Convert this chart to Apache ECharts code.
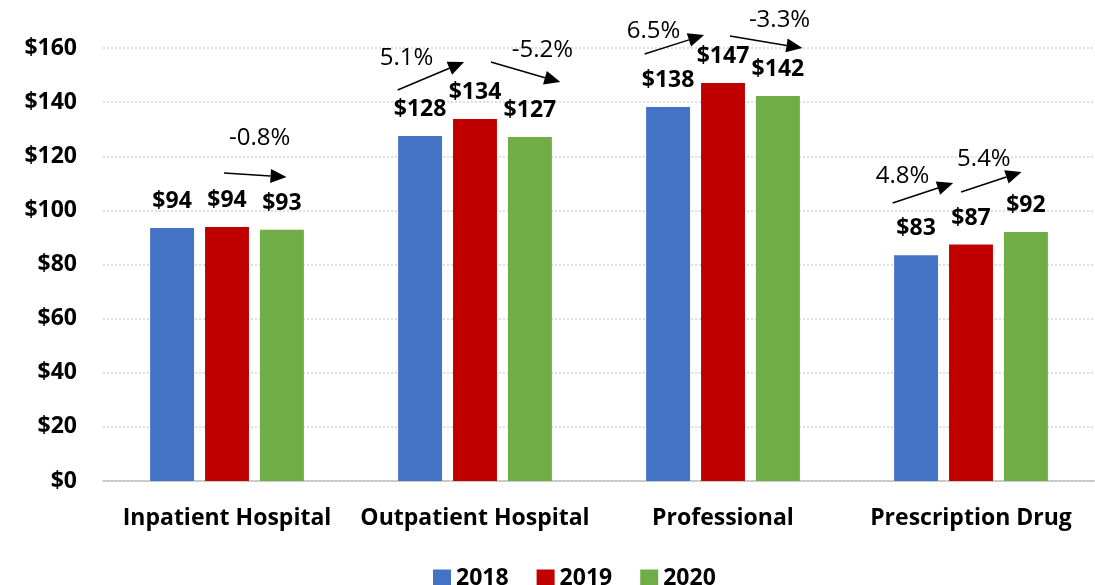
<!DOCTYPE html>
<html>
<head>
<meta charset="utf-8">
<script src="https://cdn.jsdelivr.net/npm/echarts@6/dist/echarts.min.js"></script>
<style>
  html, body { margin: 0; padding: 0; background: #fff; }
  #chart { width: 1095px; height: 585px; }
</style>
</head>
<body>
<div id="chart"></div>
<script>
const categories = ['Inpatient Hospital', 'Outpatient Hospital', 'Professional', 'Prescription Drug']
const years = ['2018', '2019', '2020']
const values2018 = [93.5, 127.5, 138.2, 83.4]
const values2019 = [93.9, 133.8, 147.1, 87.4]
const values2020 = [92.8, 127.1, 142.3, 92.0]
const yTicks = [0, 20, 40, 60, 80, 100, 120, 140, 160]

// year-over-year change labels, one per arrow
const changeText = ['-0.8%', '5.1%', '-5.2%', '6.5%', '-3.3%', '4.8%', '5.4%']
const changeCategory = [0, 1, 1, 2, 2, 3, 3]

// arrow layout: x as fraction of category band from its centre, y in axis units
const arrowLayout = [
  { x0: -0.012, v0: 113.8, x1: 0.24, v1: 112.3, tx: 0.132, tv: 126.8 },
  { x0: -0.312, v0: 144.5, x1: -0.044, v1: 154.8, tx: -0.276, tv: 156.3 },
  { x0: 0.064, v0: 154.8, x1: 0.344, v1: 147.4, tx: 0.272, tv: 159.3 },
  { x0: -0.316, v0: 157.8, x1: -0.076, v1: 164.8, tx: -0.28, tv: 166.3 },
  { x0: 0.028, v0: 164.4, x1: 0.32, v1: 160.0, tx: 0.228, tv: 170.4 },
  { x0: -0.316, v0: 102.7, x1: -0.072, v1: 110.1, tx: -0.276, tv: 112.7 },
  { x0: -0.04, v0: 106.8, x1: 0.204, v1: 114.2, tx: 0.052, tv: 119.0 }
]

const font = '"Open Sans", "Noto Sans", sans-serif'
const colors = ['#4472C4', '#C00000', '#70AD47']

const chartDom = echarts.init(document.getElementById('chart'))

const barLabel = {
  show: true,
  position: 'top',
  distance: 15,
  color: '#000',
  fontWeight: 'bold',
  fontSize: 23,
  fontFamily: font,
  formatter: (p) => '$' + Math.round(p.value)
}

function renderArrow(params, api) {
  const cat = api.value(0)
  const a = arrowLayout[params.dataIndex]
  const band = api.size([1, 0])[0]
  const cx = api.coord([cat, 0])[0]
  const p0 = [cx + a.x0 * band, api.coord([cat, a.v0])[1]]
  const p1 = [cx + a.x1 * band, api.coord([cat, a.v1])[1]]
  const dx = p1[0] - p0[0]
  const dy = p1[1] - p0[1]
  const len = Math.sqrt(dx * dx + dy * dy)
  const ux = dx / len
  const uy = dy / len
  const headL = 16
  const headW = 7
  const bx = p1[0] - ux * headL
  const by = p1[1] - uy * headL
  return {
    type: 'group',
    children: [
      {
        type: 'line',
        shape: { x1: p0[0], y1: p0[1], x2: bx, y2: by },
        style: { stroke: '#000', lineWidth: 1.5 }
      },
      {
        type: 'polygon',
        shape: {
          points: [
            [p1[0], p1[1]],
            [bx - uy * headW, by + ux * headW],
            [bx + uy * headW, by - ux * headW]
          ]
        },
        style: { fill: '#000' }
      },
      {
        type: 'text',
        style: {
          text: changeText[params.dataIndex],
          x: cx + a.tx * band,
          y: api.coord([cat, a.tv])[1],
          align: 'center',
          verticalAlign: 'middle',
          fill: '#000',
          fontSize: 24,
          fontFamily: font
        }
      }
    ]
  }
}

const option = {
  animation: false,
  color: colors,
  grid: { left: 103, top: 48, width: 999, height: 433 },
  legend: {
    data: years,
    top: 562,
    left: 428,
    icon: 'rect',
    itemWidth: 18,
    itemHeight: 18,
    itemGap: 28,
    textStyle: { color: '#000', fontWeight: 'bold', fontSize: 23, fontFamily: font }
  },
  xAxis: {
    type: 'category',
    data: categories,
    axisTick: { show: false },
    axisLine: { lineStyle: { color: '#bfbfbf', width: 1.5 } },
    axisLabel: {
      interval: 0,
      hideOverlap: false,
      color: '#000',
      fontWeight: 'bold',
      fontSize: 23,
      fontFamily: font,
      margin: 26
    }
  },
  yAxis: {
    type: 'value',
    min: yTicks[0],
    max: yTicks[yTicks.length - 1],
    interval: yTicks[1] - yTicks[0],
    axisLine: { show: false },
    axisTick: { show: false },
    splitLine: { lineStyle: { color: '#d4d4d4', width: 1.5, type: [2, 2] } },
    axisLabel: {
      color: '#000',
      fontWeight: 'bold',
      fontSize: 23,
      fontFamily: font,
      margin: 26,
      formatter: (v) => '$' + v
    }
  },
  series: [
    { name: years[0], type: 'bar', data: values2018, barGap: '25%', barCategoryGap: '38%', label: barLabel },
    { name: years[1], type: 'bar', data: values2019, barGap: '25%', barCategoryGap: '38%', label: barLabel },
    { name: years[2], type: 'bar', data: values2020, barGap: '25%', barCategoryGap: '38%', label: barLabel },
    {
      type: 'custom',
      silent: true,
      clip: false,
      renderItem: renderArrow,
      encode: { x: 0, y: 1 },
      data: changeCategory.map((c) => [c, 0]),
      z: 10
    }
  ]
}

chartDom.setOption(option)
</script>
</body>
</html>
